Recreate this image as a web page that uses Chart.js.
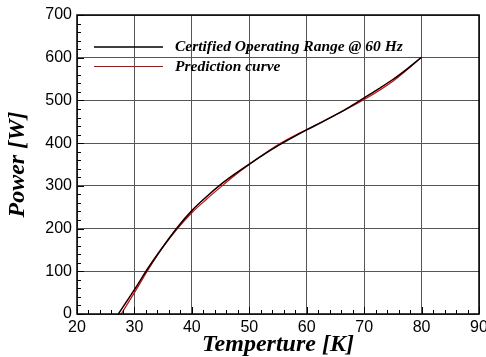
<!DOCTYPE html>
<html>
<head>
<meta charset="utf-8">
<script src="https://cdn.jsdelivr.net/npm/chart.js@4"></script>
<style>
  html, body { margin: 0; padding: 0; background: #fff; }
</style>
</head>
<body>
<canvas id="myChart" width="486" height="357"></canvas>
<script>
// values
let certTemp  = [27.2, 30, 32.5, 35, 37.5, 40, 42.5, 45, 47.5, 50, 52.5, 55, 57.5, 60, 62.5, 65, 67.5, 70, 72.5, 75, 77.5, 80];
let certPower = [0, 57, 110, 158, 203, 242, 274, 303, 328, 351, 373, 394, 413, 431, 448, 466, 485, 506, 527, 549, 574, 601];
let predTemp  = [27.7, 30, 32.5, 35, 37.5, 40, 42.5, 45, 47.5, 50, 55, 60, 65, 70, 75, 80];
let predPower = [0, 50, 106, 157, 200, 237, 268, 297, 325, 350, 396, 432, 466, 502, 545, 601];
let xTicks = [20, 30, 40, 50, 60, 70, 80, 90];
let yTicks = [0, 100, 200, 300, 400, 500, 600, 700];

let toPoints = (xs, ys) => xs.map((x, i) => ({x: x, y: ys[i]}));

// inward ticks, frame and legend box inside the plot
let framePlugin = {
    id: 'frame',
    afterDraw(chart) {
        let c = chart.ctx;
        let a = chart.chartArea;
        let xs = chart.scales.x, ys = chart.scales.y;
        c.save();
        c.strokeStyle = '#000';
        c.lineWidth = 1;
        for (let v = 20; v <= 90; v += 2) {
            let px = Math.round(xs.getPixelForValue(v)) + 0.5;
            let len = (v % 10 === 0) ? 7 : 4;
            c.beginPath(); c.moveTo(px, a.bottom); c.lineTo(px, a.bottom - len); c.stroke();
        }
        for (let v = 0; v <= 700; v += 20) {
            let py = Math.round(ys.getPixelForValue(v)) + 0.5;
            let len = (v % 100 === 0) ? 7 : 4;
            c.beginPath(); c.moveTo(a.left, py); c.lineTo(a.left + len, py); c.stroke();
        }
        c.lineWidth = 1.5;
        c.strokeRect(a.left, a.top, a.right - a.left, a.bottom - a.top);

        // legend
        c.font = "bold italic 15.5px 'Liberation Serif'";
        c.textBaseline = 'middle';
        chart.data.datasets.forEach((ds, i) => {
            let y = 47 + i * 19.5;
            c.strokeStyle = ds.borderColor;
            c.lineWidth = ds.borderWidth;
            c.beginPath(); c.moveTo(94, y); c.lineTo(163, y); c.stroke();
            c.fillStyle = '#000';
            c.fillText(ds.label, 175, y);
        });
        c.restore();
    }
};

let ctx = document.getElementById('myChart');

let myChart = new Chart(ctx, {
    type: 'scatter',
    data: {
        datasets: [{
            label: 'Certified Operating Range @ 60 Hz',
            data: toPoints(certTemp, certPower),
            showLine: true,
            borderColor: '#000000',
            borderWidth: 1.5,
            pointRadius: 0,
            cubicInterpolationMode: 'monotone'
        }, {
            label: 'Prediction curve',
            data: toPoints(predTemp, predPower),
            showLine: true,
            borderColor: '#e00000',
            borderWidth: 1.2,
            pointRadius: 0,
            cubicInterpolationMode: 'monotone'
        }]
    },
    options: {
        responsive: false,
        animation: false,
        devicePixelRatio: 1,
        layout: { padding: { left: 0, top: 15, right: 7, bottom: 0 } },
        plugins: {
            legend: { display: false },
            tooltip: { enabled: false }
        },
        scales: {
            x: {
                type: 'linear',
                min: 20, max: 90,
                afterBuildTicks: s => { s.ticks = xTicks.map(v => ({value: v})); },
                afterFit: s => { s.height = 43; s.paddingLeft = 0; s.paddingRight = 0; },
                ticks: { color: '#000', padding: 4, maxRotation: 0, font: { family: "'Liberation Sans'", size: 16 } },
                grid: { color: '#555', drawTicks: false },
                border: { display: false },
                title: {
                    display: true, text: 'Temperture [K]', color: '#000',
                    padding: { top: 0, bottom: 0 },
                    font: { family: "'Liberation Serif'", size: 24, weight: 'bold', style: 'italic', lineHeight: 1 }
                }
            },
            y: {
                min: 0, max: 700,
                afterBuildTicks: s => { s.ticks = yTicks.map(v => ({value: v})); },
                afterFit: s => { s.width = 77; s.paddingTop = 0; s.paddingBottom = 0; },
                ticks: { color: '#000', padding: 5, font: { family: "'Liberation Sans'", size: 16 } },
                grid: { color: '#555', drawTicks: false },
                border: { display: false },
                title: {
                    display: true, text: 'Power [W]', color: '#000',
                    padding: { top: 6, bottom: 0 },
                    font: { family: "'Liberation Serif'", size: 24, weight: 'bold', style: 'italic', lineHeight: 1 }
                }
            }
        }
    },
    plugins: [framePlugin]
});
</script>
</body>
</html>
